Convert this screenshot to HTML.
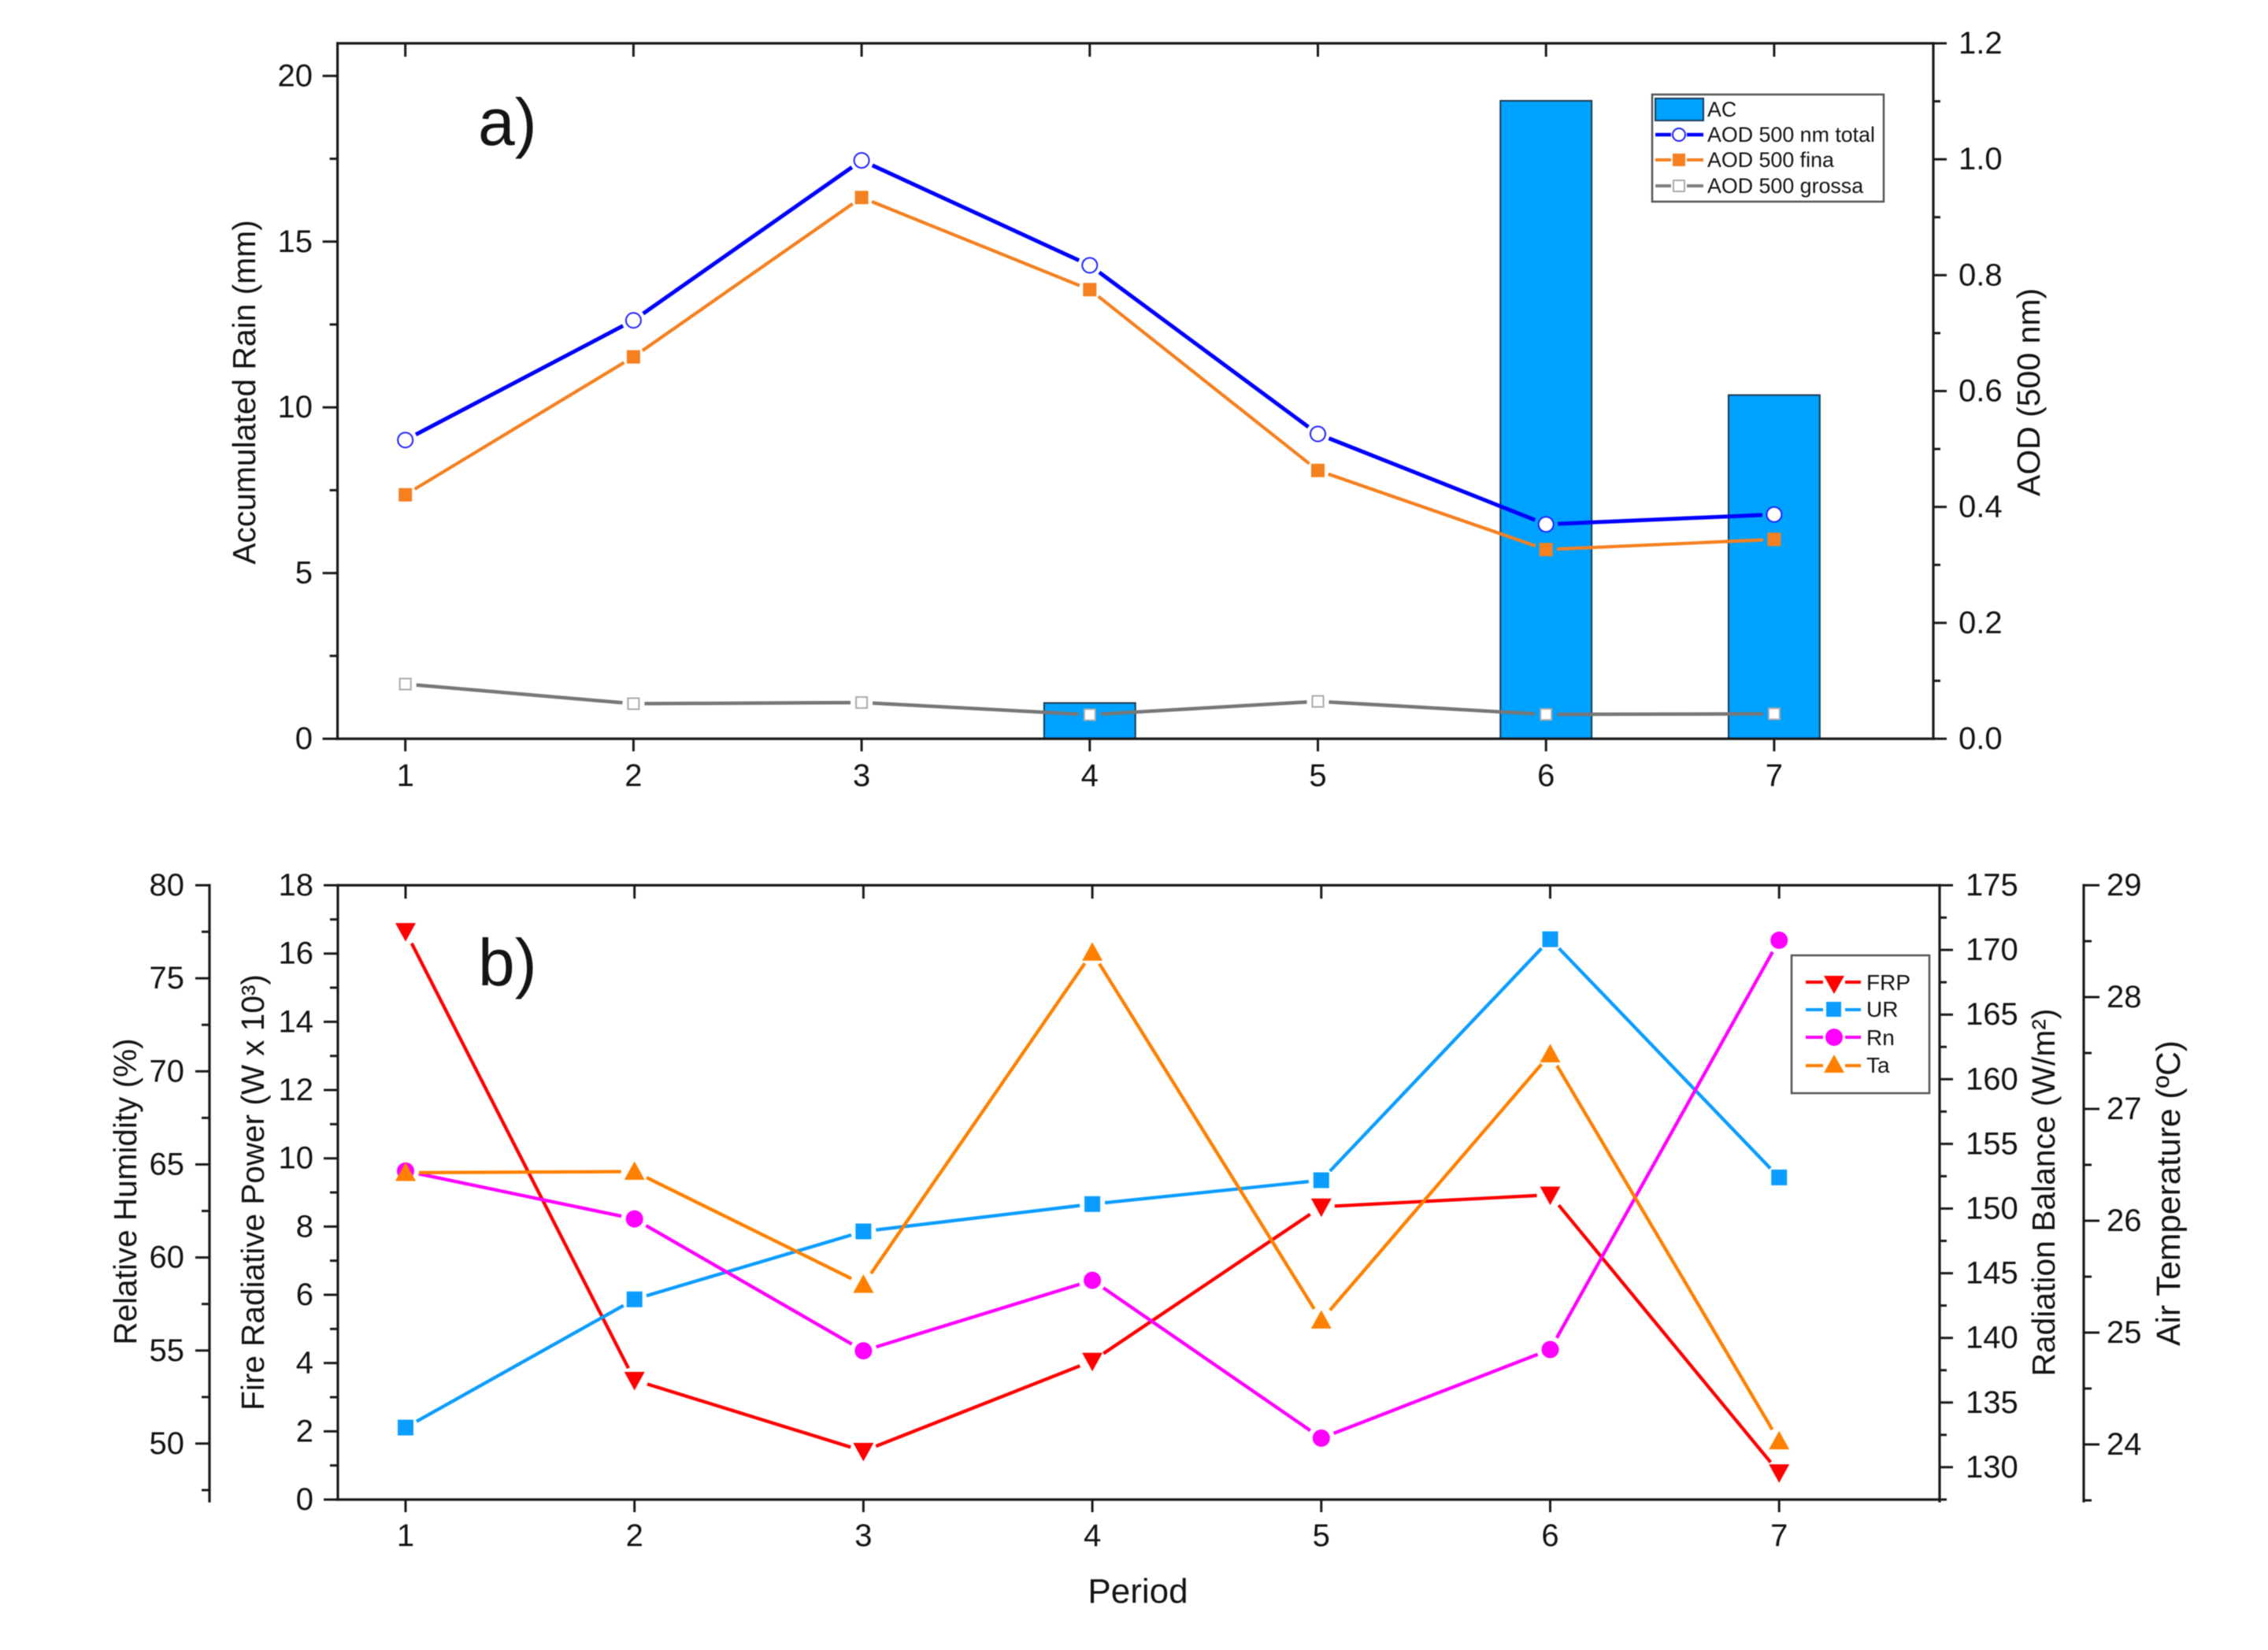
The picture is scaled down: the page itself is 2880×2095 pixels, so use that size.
<!DOCTYPE html>
<html>
<head>
<meta charset="utf-8">
<title>Rain, AOD and fire radiative power by period</title>
<style>
html,body{margin:0;padding:0;background:#fff;width:2880px;height:2095px;overflow:hidden}
svg{display:block;filter:blur(0.6px)}
text{font-family:"Liberation Sans",Arial,sans-serif;fill:#141414}
</style>
</head>
<body>
<svg id="chart" xmlns="http://www.w3.org/2000/svg" width="2880" height="2095" viewBox="0 0 2880 2095">
  <rect x="0" y="0" width="2880" height="2095" fill="#ffffff"/>
  <g id="panelA"></g>
  <g id="panelB"></g>

  <text x="607" y="184" font-size="84">a)</text>
  <text x="607" y="1251" font-size="84">b)</text>

  <text transform="translate(324,498) rotate(-90)" text-anchor="middle" font-size="40.8">Accumulated Rain (mm)</text>
  <text transform="translate(2590,498) rotate(-90)" text-anchor="middle" font-size="41">AOD (500 nm)</text>
  <text transform="translate(173,1513) rotate(-90)" text-anchor="middle" font-size="40.5">Relative Humidity (%)</text>
  <text transform="translate(335,1514) rotate(-90)" text-anchor="middle" font-size="40.5">Fire Radiative Power (W x 10³)</text>
  <text transform="translate(2609,1514) rotate(-90)" text-anchor="middle" font-size="40.8">Radiation Balance (W/m²)</text>
  <text transform="translate(2768,1515) rotate(-90)" text-anchor="middle" font-size="42.5">Air Temperature (ºC)</text>
  <text x="1445" y="2035" text-anchor="middle" font-size="44">Period</text>

  <g>
    <rect x="2098" y="120" width="294" height="136" fill="#ffffff" stroke="#555" stroke-width="2.5"/>
    <g>
      <rect x="2102" y="125" width="61" height="28" fill="#00a2ff" stroke="#1a3a55" stroke-width="2"/>
      <text x="2168" y="148" font-size="26.8">AC</text>
    </g>
    <g>
      <path d="M2102 171H2122M2142 171H2163" stroke="#0000ff" stroke-width="4.5" fill="none"/>
      <circle cx="2132" cy="171" r="8" fill="#fff" stroke="#2222ff" stroke-width="2"/>
      <text x="2168" y="180" font-size="26.8">AOD 500 nm total</text>
    </g>
    <g>
      <path d="M2102 203H2122M2142 203H2163" stroke="#f58020" stroke-width="4" fill="none"/>
      <rect x="2124" y="195" width="16" height="16" fill="#f58020"/>
      <text x="2168" y="212" font-size="26.8">AOD 500 fina</text>
    </g>
    <g>
      <path d="M2102 236H2122M2142 236H2163" stroke="#808080" stroke-width="4" fill="none"/>
      <rect x="2125" y="229" width="14" height="14" fill="#fff" stroke="#aaaaaa" stroke-width="2"/>
      <text x="2168" y="245" font-size="26.8">AOD 500 grossa</text>
    </g>
  </g>

  <g>
    <rect x="2275" y="1213" width="175" height="175" fill="#ffffff" stroke="#555" stroke-width="2.5"/>
    <g>
      <path d="M2293 1247H2315M2343 1247H2363" stroke="#ff0000" stroke-width="4" fill="none"/>
      <polygon points="2316,1239 2342,1239 2329,1262" fill="#ff0000"/>
      <text x="2370" y="1257" font-size="28">FRP</text>
    </g>
    <g>
      <path d="M2293 1282H2315M2343 1282H2363" stroke="#0a9dff" stroke-width="4" fill="none"/>
      <rect x="2319" y="1272" width="19" height="19" fill="#0a9dff"/>
      <text x="2370" y="1291" font-size="28">UR</text>
    </g>
    <g>
      <path d="M2293 1317H2315M2343 1317H2363" stroke="#ff00ff" stroke-width="4" fill="none"/>
      <circle cx="2329" cy="1317" r="11" fill="#ff00ff"/>
      <text x="2370" y="1327" font-size="28">Rn</text>
    </g>
    <g>
      <path d="M2293 1353H2315M2343 1353H2363" stroke="#ff8000" stroke-width="4" fill="none"/>
      <polygon points="2316,1362 2342,1362 2329,1339" fill="#ff8000"/>
      <text x="2370" y="1362" font-size="28">Ta</text>
    </g>
  </g>
</svg>
<script>
// ---- data ----
const periods = [1, 2, 3, 4, 5, 6, 7];
const acRain = [0, 0, 0, 1.08, 0, 19.25, 10.37];
const aodTotal = [0.5155, 0.722, 0.998, 0.817, 0.526, 0.370, 0.387];
const aodFine = [0.421, 0.659, 0.934, 0.775, 0.463, 0.3265, 0.344];
const aodCoarse = [0.0944, 0.0605, 0.0625, 0.0415, 0.0645, 0.042, 0.043];
const frpValues = [16.65, 3.5, 1.42, 4.06, 8.58, 8.93, 0.79];
const urValues = [50.86, 57.75, 61.4, 62.87, 64.15, 77.1, 64.3];
const rnValues = [152.9, 149.2, 139.0, 144.45, 132.25, 139.1, 170.75];
const taValues = [26.43, 26.44, 25.43, 28.4, 25.11, 27.49, 24.03];
const rainTicks = [0, 5, 10, 15, 20];
const rainMinorTicks = [2.5, 7.5, 12.5, 17.5];
const aodTicks = ['0.0', '0.2', '0.4', '0.6', '0.8', '1.0', '1.2'];
const aodMinorTicks = [0.1, 0.3, 0.5, 0.7, 0.9, 1.1];
const frpTicks = [0, 2, 4, 6, 8, 10, 12, 14, 16, 18];
const frpMinorTicks = [1, 3, 5, 7, 9, 11, 13, 15, 17];
const rhTicks = [50, 55, 60, 65, 70, 75, 80];
const rhMinorTicks = [47.5, 52.5, 57.5, 62.5, 67.5, 72.5, 77.5];
const rnTicks = [130, 135, 140, 145, 150, 155, 160, 165, 170, 175];
const rnMinorTicks = [127.5, 132.5, 137.5, 142.5, 147.5, 152.5, 157.5, 162.5, 167.5, 172.5];
const taTicks = [24, 25, 26, 27, 28, 29];
const taMinorTicks = [23.5, 24.5, 25.5, 26.5, 27.5, 28.5];

// ---- axis functions ----
const xA = v => 514.7 + (v - 1) * 289.7;
const yRain = v => 938 - v * 42.08;
const yAod = v => 938 - v * 735.8;
const xB = v => 515 + (v - 1) * 290.7;
const yFrp = v => 1904 - v * 43.33;
const yRh = v => 1124 + (80 - v) * 23.63;
const yRn = v => 1124 + (175 - v) * 16.42;
const yTa = v => 1124 + (29 - v) * 142;

const NS = 'http://www.w3.org/2000/svg';
const AXIS = '#1a1a1a';
function make(tag, parent, geom) {
  const el = document.createElementNS(NS, tag);
  for (const k in geom) el.setAttribute(k, geom[k]);
  parent.appendChild(el);
  return el;
}
function tick(parent, x1, y1, x2, y2) {
  const el = make('line', parent, {x1, y1, x2, y2, stroke: AXIS, 'stroke-width': 3});
  
  
}
function axisLine(parent, x1, y1, x2, y2) {
  const el = make('line', parent, {x1, y1, x2, y2, stroke: AXIS, 'stroke-width': 3.2, 'stroke-linecap': 'square'});
  
  
}
function label(parent, x, y, anchor, str) {
  const el = make('text', parent, {x, y: y + 13, 'text-anchor': anchor, 'font-size': 40});
  el.textContent = str;
  
  
}
function vAxis(parent, x, dir, scale, ticks, minors, labelX, anchor, majorLen, minorLen) {
  ticks.forEach(t => {
    const y = scale(Number(t));
    tick(parent, x, y, x + dir * majorLen, y);
    label(parent, labelX, y, anchor, String(t));
  });
  minors.forEach(t => {
    const y = scale(t);
    tick(parent, x, y, x + dir * minorLen, y);
  });
}
function hAxis(parent, scale, top, bottom, labelY) {
  periods.forEach(p => {
    const x = scale(p);
    tick(parent, x, top, x, top + 17);
    tick(parent, x, bottom, x, bottom + 16);
    label(parent, x, labelY, 'middle', String(p));
  });
}
function seriesLine(parent, name, xs, ys, color, width, gap) {
  for (let i = 0; i < xs.length - 1; i++) {
    const dx = xs[i + 1] - xs[i], dy = ys[i + 1] - ys[i];
    const len = Math.hypot(dx, dy);
    const ux = dx / len, uy = dy / len;
    const el = make('line', parent, {
      x1: xs[i] + ux * gap, y1: ys[i] + uy * gap,
      x2: xs[i + 1] - ux * gap, y2: ys[i + 1] - uy * gap,
      stroke: color, 'stroke-width': width
    });
    
    
  }
}
function triangle(parent, x, y, dir, w, color) {
  const pts = (x - w) + ',' + (y - dir * 10.5) + ' ' + (x + w) + ',' + (y - dir * 10.5) + ' ' + x + ',' + (y + dir * 13);
  return make('polygon', parent, {points: pts, fill: color});
}

// ---- panel a ----
const pa = document.getElementById('panelA');
const barW = 0.4 * 289.7;
periods.forEach((p, i) => {
  if (acRain[i] <= 0) return;
  const el = make('rect', pa, {
    x: xA(p) - barW / 2, y: yRain(acRain[i]),
    width: barW, height: yRain(0) - yRain(acRain[i]),
    fill: '#00a2ff', stroke: '#1a3a55', 'stroke-width': 2
  });
  
  
});
axisLine(pa, 428.6, 55, 2455, 55);
axisLine(pa, 428.6, 938, 2455, 938);
axisLine(pa, 428.6, 55, 428.6, 938);
axisLine(pa, 2455, 55, 2455, 938);
vAxis(pa, 428.6, -1, yRain, rainTicks, rainMinorTicks, 397, 'end', 19, 10);
vAxis(pa, 2455, 1, yAod, aodTicks, aodMinorTicks, 2487, 'start', 17, 9);
hAxis(pa, xA, 55, 938, 985);

const xsA = periods.map(xA);
seriesLine(pa, 'aod-total', xsA, aodTotal.map(yAod), '#0000ff', 5, 15);
seriesLine(pa, 'aod-fine', xsA, aodFine.map(yAod), '#f58020', 4.2, 14);
seriesLine(pa, 'aod-coarse', xsA, aodCoarse.map(yAod), '#777777', 4.5, 14);
periods.forEach((p, i) => {
  const x = xA(p);
  const c = make('circle', pa, {cx: x, cy: yAod(aodTotal[i]), r: 9.5, fill: '#ffffff', stroke: '#2222ff', 'stroke-width': 2});
  
  
  const s = make('rect', pa, {x: x - 8.5, y: yAod(aodFine[i]) - 8.5, width: 17, height: 17, fill: '#f58020'});
  
  
  const g = make('rect', pa, {x: x - 7, y: yAod(aodCoarse[i]) - 7, width: 14, height: 14, fill: '#ffffff', stroke: '#aaaaaa', 'stroke-width': 2});
  
  
});

// ---- panel b ----
const pb = document.getElementById('panelB');
axisLine(pb, 429, 1124, 2463, 1124);
axisLine(pb, 429, 1904, 2463, 1904);
axisLine(pb, 429, 1124, 429, 1904);
axisLine(pb, 2463, 1124, 2463, 1906);
axisLine(pb, 266, 1124, 266, 1906);
axisLine(pb, 2646, 1124, 2646, 1906);
vAxis(pb, 429, -1, yFrp, frpTicks, frpMinorTicks, 398, 'end', 18, 10);
vAxis(pb, 266, -1, yRh, rhTicks, rhMinorTicks, 234, 'end', 18, 10);
vAxis(pb, 2463, 1, yRn, rnTicks, rnMinorTicks, 2496, 'start', 17, 9);
vAxis(pb, 2646, 1, yTa, taTicks, taMinorTicks, 2675, 'start', 20, 10);
hAxis(pb, xB, 1124, 1904, 1950);

const xsB = periods.map(xB);
seriesLine(pb, 'frp', xsB, frpValues.map(yFrp), '#ff0000', 4.3, 17);
seriesLine(pb, 'ur', xsB, urValues.map(yRh), '#0a9dff', 4.3, 16);
seriesLine(pb, 'rn', xsB, rnValues.map(yRn), '#ff00ff', 4.3, 17);
seriesLine(pb, 'ta', xsB, taValues.map(yTa), '#ff8000', 4.3, 17);
periods.forEach((p, i) => {
  const x = xB(p);
  const f = triangle(pb, x, yFrp(frpValues[i]), 1, 13, '#ff0000');
  
  
  const u = make('rect', pb, {x: x - 10, y: yRh(urValues[i]) - 10, width: 20, height: 20, fill: '#0a9dff'});
  
  
  const r = make('circle', pb, {cx: x, cy: yRn(rnValues[i]), r: 11, fill: '#ff00ff'});
  
  
});
periods.forEach((p, i) => {
  const t = triangle(pb, xB(p), yTa(taValues[i]), -1, 13, '#ff8000');
  
  
});
</script>
</body>
</html>
